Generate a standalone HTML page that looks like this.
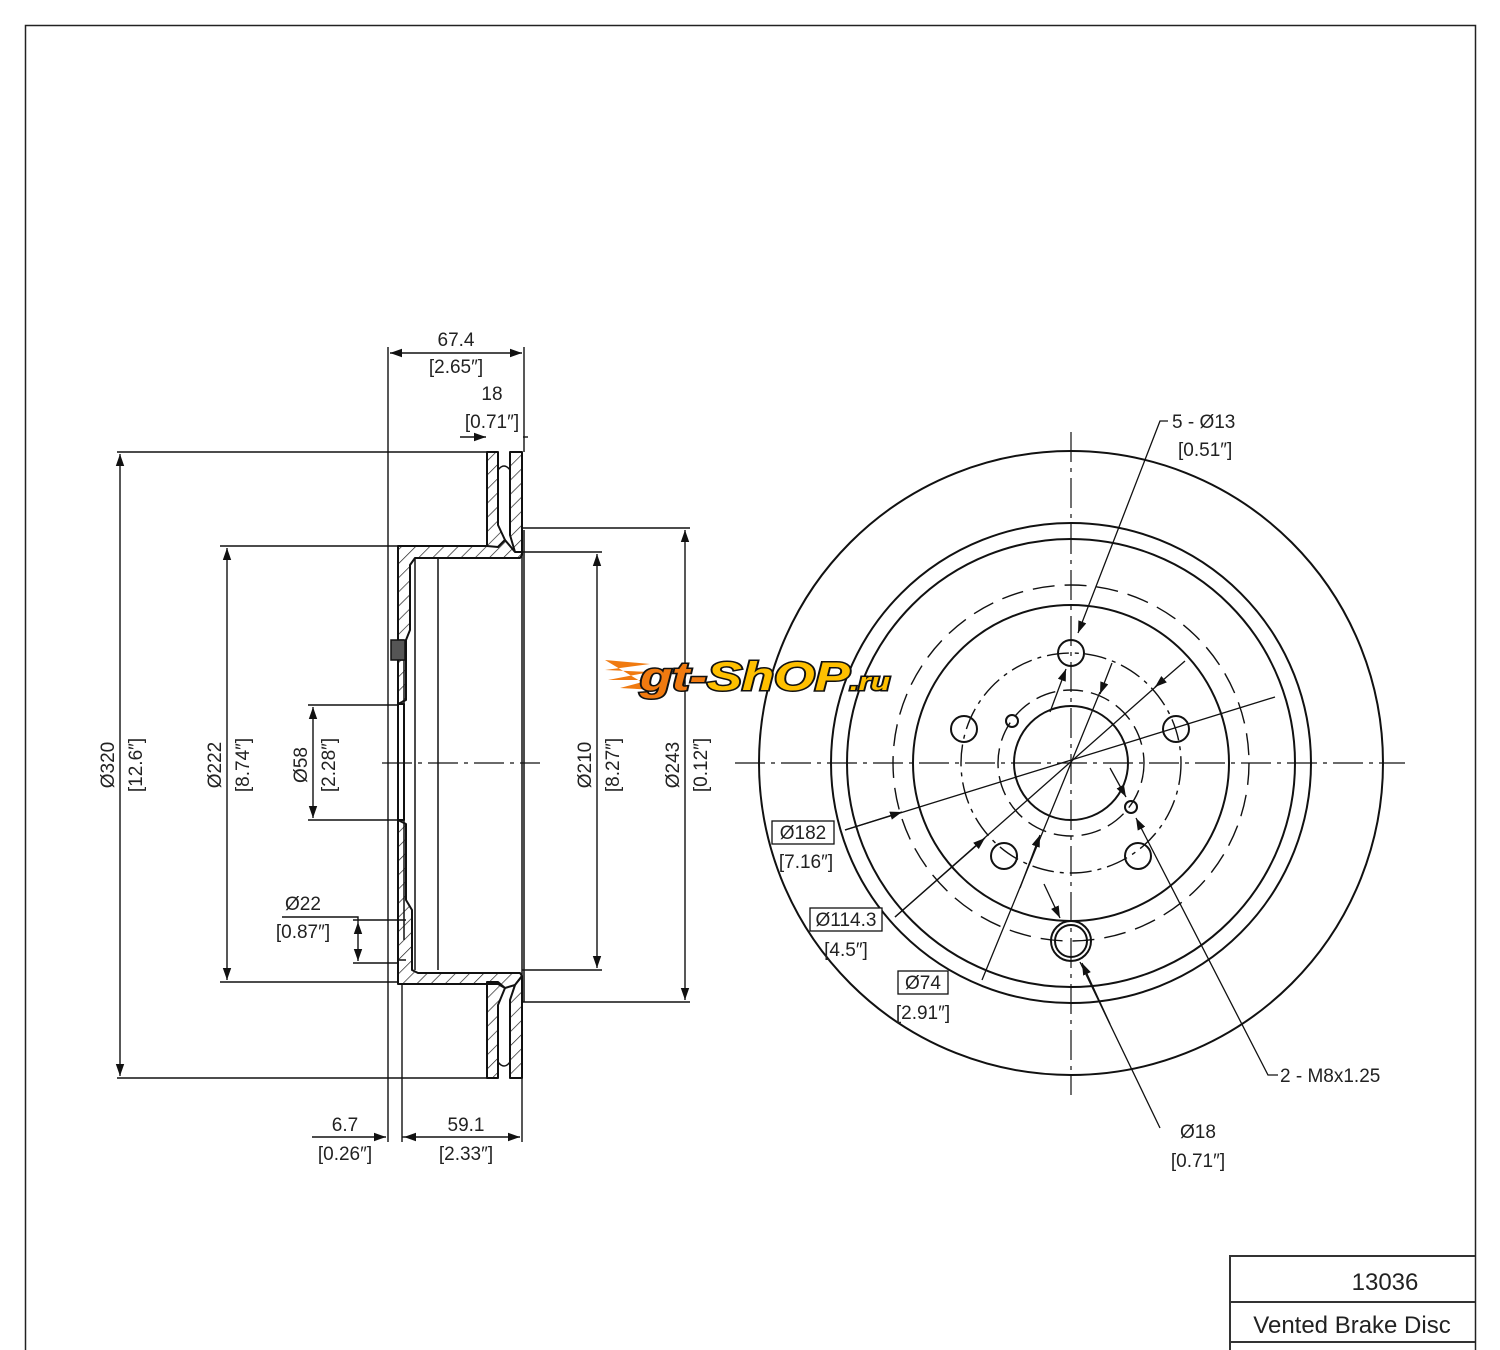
<!DOCTYPE html>
<html><head><meta charset="utf-8"><style>
html,body{margin:0;padding:0;background:#fff}
svg{display:block}
text{font-family:"Liberation Sans",sans-serif;font-size:19px;fill:#222}
</style></head><body>
<svg width="1500" height="1350" viewBox="0 0 1500 1350" xmlns="http://www.w3.org/2000/svg">
<defs>
<pattern id="h" width="10" height="10" patternUnits="userSpaceOnUse" patternTransform="rotate(45)">
<rect width="10" height="10" fill="#fff"/><line x1="0" y1="0" x2="0" y2="10" stroke="#222" stroke-width="1.4"/>
</pattern>
<marker id="a" viewBox="0 0 10 10" refX="10" refY="5" markerWidth="12" markerHeight="12" markerUnits="userSpaceOnUse" orient="auto-start-reverse"><path d="M0,1.5 L10,5 L0,8.5z" fill="#111"/></marker>
</defs>
<rect x="25.5" y="25.5" width="1450" height="1340" fill="none" stroke="#222" stroke-width="1.5"/>
<g stroke="#333" stroke-width="2" fill="none">
<path d="M1230,1350 V1256 H1475 M1230,1302 H1475 M1230,1342 H1475"/>
</g>
<text x="1385" y="1290" text-anchor="middle" style="font-size:24px">13036</text>
<text x="1352" y="1333" text-anchor="middle" style="font-size:24px">Vented Brake Disc</text>

<g stroke="#111" stroke-width="2" fill="url(#h)" stroke-linejoin="round">
<path d="M487,452 H498 V525 L505,540 L498,547 H487 Z"/>
<path d="M510,452 H522 V552 L515,552 L510,535 Z"/>
<path d="M398,546 H487 L498,547 L505,540 L515,552 H522 V555 L520,558 H415 L410,565 L410,630 L406,640 V700 L398,704 Z"/>
<path d="M398,820 L406,824 V900 L412,910 V970 L418,973 H520 L522,976 L515,985 L505,988 L498,982 H487 L487,984 H398 Z"/>
<path d="M398,704 H404 V820 H398 Z" fill="#fff"/>
<path d="M487,984 H498 L505,988 L498,1005 V1078 H487 Z"/>
<path d="M515,985 L522,976 V1078 H510 V1000 Z"/>
</g>
<g stroke="#111" stroke-width="1.5" fill="none">
<path d="M498,470 Q504,462 510,470 M498,1062 Q504,1070 510,1062"/>
<path d="M415,558 V970 M438,558 V970 M522,452 V1078 M524,530 V1002"/>
<path d="M404,640 V940 M398,640 H404 M398,660 H404 M398,920 H406 M398,960 H406"/>
<rect x="391" y="640" width="14" height="20" fill="#555"/>
</g>

<g stroke="#111" stroke-width="1.4" fill="none">
<path d="M388,347 V1142 M524,347 V452 M117,452 H487 M117,1078 H487 M220,546 H398 M220,982 H398 M308,705 H398 M308,820 H398 M353,920 H398 M353,963 H398 M522,552 H602 M522,970 H602 M522,528 H690 M522,1002 H690 M402,985 V1142 M522,1078 V1142"/>
<line x1="390" y1="353" x2="522" y2="353" marker-start="url(#a)" marker-end="url(#a)"/>
<line x1="460" y1="437" x2="486" y2="437" marker-end="url(#a)"/>
<line x1="523" y1="437" x2="528" y2="437"/>
<line x1="120" y1="454" x2="120" y2="1076" marker-start="url(#a)" marker-end="url(#a)"/>
<line x1="227" y1="548" x2="227" y2="980" marker-start="url(#a)" marker-end="url(#a)"/>
<line x1="313" y1="707" x2="313" y2="818" marker-start="url(#a)" marker-end="url(#a)"/>
<line x1="597" y1="554" x2="597" y2="968" marker-start="url(#a)" marker-end="url(#a)"/>
<line x1="685" y1="530" x2="685" y2="1000" marker-start="url(#a)" marker-end="url(#a)"/>
<line x1="358" y1="922" x2="358" y2="961" marker-start="url(#a)" marker-end="url(#a)"/>
<path d="M282,917 H358 V922"/>
<line x1="312" y1="1137" x2="386" y2="1137" marker-end="url(#a)"/>
<line x1="404" y1="1137" x2="520" y2="1137" marker-start="url(#a)" marker-end="url(#a)"/>
<line x1="402" y1="1137" x2="404" y2="1137"/>
</g>
<line x1="382" y1="763" x2="540" y2="763" stroke="#111" stroke-width="1.2" stroke-dasharray="30,6,4,6"/>
<text x="456" y="346" text-anchor="middle">67.4</text>
<text x="456" y="373" text-anchor="middle">[2.65″]</text>
<text x="492" y="400" text-anchor="middle">18</text>
<text x="492" y="428" text-anchor="middle">[0.71″]</text>
<text x="303" y="910" text-anchor="middle">Ø22</text>
<text x="303" y="938" text-anchor="middle">[0.87″]</text>
<text x="345" y="1131" text-anchor="middle">6.7</text>
<text x="345" y="1160" text-anchor="middle">[0.26″]</text>
<text x="466" y="1131" text-anchor="middle">59.1</text>
<text x="466" y="1160" text-anchor="middle">[2.33″]</text>
<g>
<text transform="translate(114,765) rotate(-90)" text-anchor="middle">Ø320</text>
<text transform="translate(142,765) rotate(-90)" text-anchor="middle">[12.6″]</text>
<text transform="translate(221,765) rotate(-90)" text-anchor="middle">Ø222</text>
<text transform="translate(249,765) rotate(-90)" text-anchor="middle">[8.74″]</text>
<text transform="translate(307,765) rotate(-90)" text-anchor="middle">Ø58</text>
<text transform="translate(335,765) rotate(-90)" text-anchor="middle">[2.28″]</text>
<text transform="translate(591,765) rotate(-90)" text-anchor="middle">Ø210</text>
<text transform="translate(619,765) rotate(-90)" text-anchor="middle">[8.27″]</text>
<text transform="translate(679,765) rotate(-90)" text-anchor="middle">Ø243</text>
<text transform="translate(707,765) rotate(-90)" text-anchor="middle">[0.12″]</text>
</g>

<g stroke="#111" fill="none">
<circle cx="1071" cy="763" r="312" stroke-width="2"/>
<circle cx="1071" cy="763" r="240" stroke-width="2"/>
<circle cx="1071" cy="763" r="224" stroke-width="2"/>
<circle cx="1071" cy="763" r="158" stroke-width="2"/>
<circle cx="1071" cy="763" r="57" stroke-width="2"/>
<circle cx="1071" cy="763" r="178" stroke-width="1.4" stroke-dasharray="22,10"/>
<circle cx="1071" cy="763" r="110" stroke-width="1.4" stroke-dasharray="22,6,4,6"/>
<circle cx="1071" cy="763" r="73" stroke-width="1.4" stroke-dasharray="20,8"/>
<g stroke-width="2">
<circle cx="1071" cy="653" r="13"/><circle cx="964" cy="729" r="13"/><circle cx="1176" cy="729" r="13"/>
<circle cx="1004" cy="856" r="13"/><circle cx="1138" cy="856" r="13"/>
<circle cx="1012" cy="721" r="6"/><circle cx="1131" cy="807" r="6"/>
<circle cx="1071" cy="941" r="20"/><circle cx="1071" cy="941" r="16"/>
</g>
<path d="M1071,432 V1095 M735,763 H1405" stroke-width="1.2" stroke-dasharray="30,6,4,6"/>
<g stroke-width="1.3">
<path d="M1168,421 H1160 L1078,633" marker-end="url(#a)"/>
<line x1="1050" y1="712" x2="1066" y2="669" marker-end="url(#a)"/>
<path d="M845,830 L1275,697"/>
<line x1="845" y1="830" x2="902" y2="812" marker-end="url(#a)"/>
<path d="M895,917 L1160,683"/>
<line x1="895" y1="917" x2="985" y2="838" marker-end="url(#a)"/>
<line x1="1185" y1="661" x2="1155" y2="687" marker-end="url(#a)"/>
<path d="M982,980 L1071,763 L1100,692"/>
<line x1="1020" y1="888" x2="1040" y2="835" marker-end="url(#a)"/>
<line x1="1112" y1="663" x2="1100" y2="694" marker-end="url(#a)"/>
<path d="M1278,1075 H1268 L1136,818" marker-end="url(#a)"/>
<line x1="1110" y1="768" x2="1126" y2="797" marker-end="url(#a)"/>
<path d="M1160,1128 L1080,962"/>
<line x1="1110" y1="1024" x2="1082" y2="963" marker-end="url(#a)"/>
<line x1="1044" y1="884" x2="1060" y2="918" marker-end="url(#a)"/>
</g>
<rect x="772" y="821" width="62" height="23" stroke-width="1.3" fill="#fff"/>
<rect x="810" y="908" width="72" height="23" stroke-width="1.3" fill="#fff"/>
<rect x="898" y="971" width="50" height="23" stroke-width="1.3" fill="#fff"/>
</g>
<text x="1172" y="428">5 - Ø13</text>
<text x="1178" y="456">[0.51″]</text>
<text x="803" y="839" text-anchor="middle">Ø182</text>
<text x="806" y="868" text-anchor="middle">[7.16″]</text>
<text x="846" y="926" text-anchor="middle">Ø114.3</text>
<text x="846" y="956" text-anchor="middle">[4.5″]</text>
<text x="923" y="989" text-anchor="middle">Ø74</text>
<text x="923" y="1019" text-anchor="middle">[2.91″]</text>
<text x="1280" y="1082">2 - M8x1.25</text>
<text x="1198" y="1138" text-anchor="middle">Ø18</text>
<text x="1198" y="1167" text-anchor="middle">[0.71″]</text>

<path d="M605,660 L650,664 L605,670 L650,672 L608,680 L650,680 L620,688 L655,690 Z" fill="#f07a10"/>
<text x="640" y="690" textLength="250" lengthAdjust="spacingAndGlyphs" style="font-size:40px;font-weight:bold;font-style:italic;stroke:#111;stroke-width:3;paint-order:stroke"><tspan style="fill:#f07a10">gt-</tspan><tspan style="fill:#ffc000">ShOP</tspan><tspan style="fill:#ffc000;font-size:24px">.ru</tspan></text>
</svg>
</body></html>
